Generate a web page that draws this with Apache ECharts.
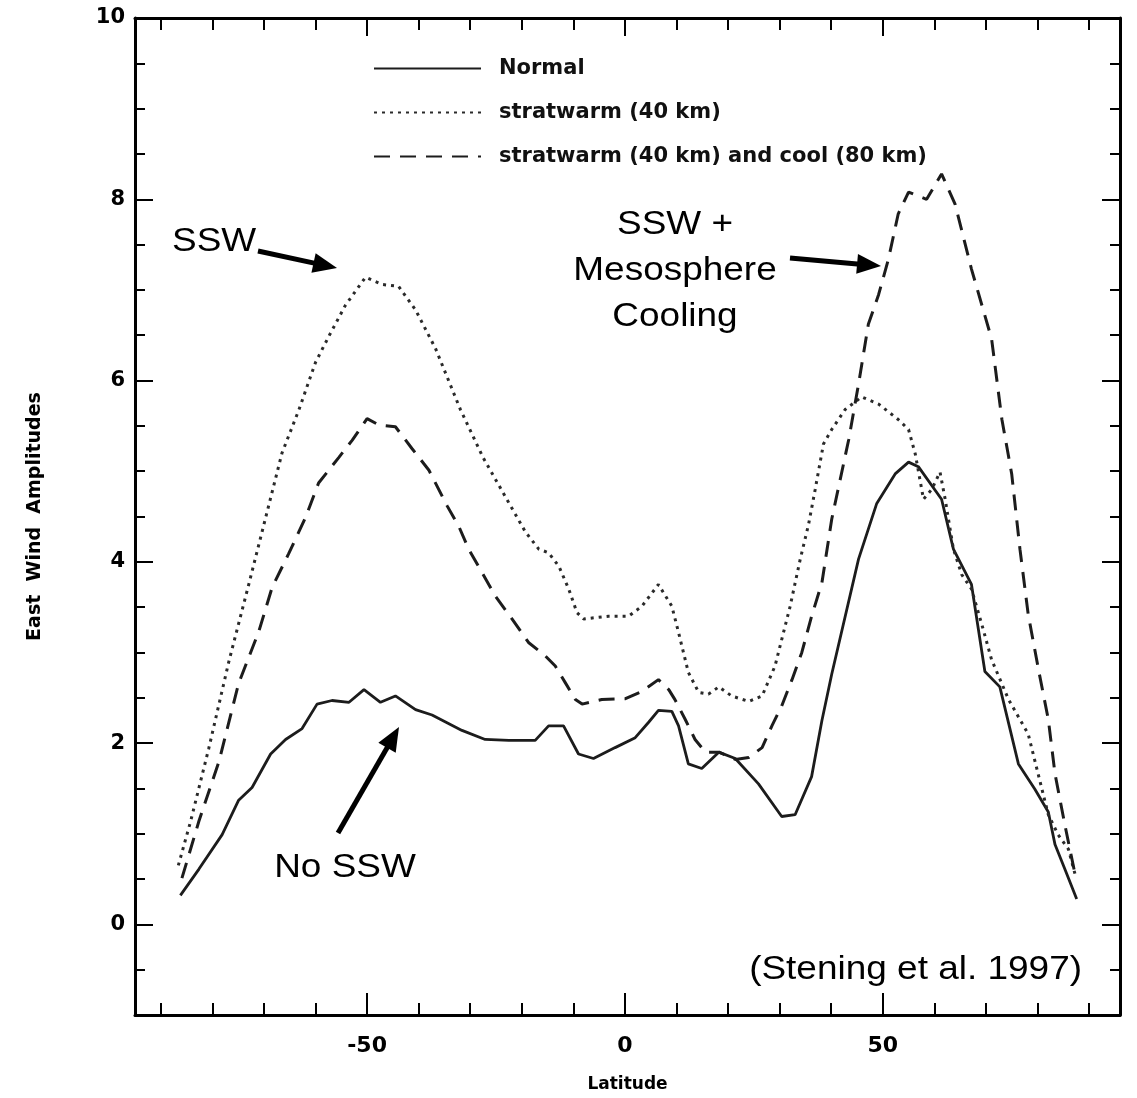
<!DOCTYPE html>
<html>
<head>
<meta charset="utf-8">
<script src="https://cdn.jsdelivr.net/npm/echarts@6/dist/echarts.min.js"></script>
<style>
html,body{margin:0;padding:0;background:#fff;}
#chart{width:1137px;height:1098px;}
</style>
</head>
<body>
<div id="chart"></div>
<script>
// ---- Data ----
const latNormal = [-86.2,-82.6,-78.1,-74.9,-72.3,-68.7,-65.8,-62.6,-59.7,-56.8,-53.5,-50.6,-47.4,-44.5,-40.6,-37.4,-31.6,-27.1,-22.5,-17.4,-14.8,-11.9,-9.0,-6.1,-1.9,2.0,4.6,6.5,9.1,10.4,12.3,14.9,18.2,21.4,25.9,30.4,33.0,36.2,38.2,40.1,45.3,48.8,52.4,55.0,56.9,61.4,63.7,67.2,69.8,72.7,76.3,79.5,82.1,83.4,85.3,87.6];
const ampNormal = [0.32,0.61,0.99,1.37,1.51,1.88,2.04,2.16,2.43,2.47,2.45,2.59,2.45,2.52,2.37,2.31,2.14,2.04,2.03,2.03,2.19,2.19,1.88,1.83,1.95,2.06,2.23,2.36,2.35,2.19,1.77,1.72,1.90,1.83,1.55,1.19,1.21,1.63,2.25,2.76,4.03,4.64,4.97,5.10,5.05,4.69,4.14,3.75,2.79,2.62,1.77,1.49,1.24,0.88,0.61,0.28];

const latWarm = [-86.6,-84.2,-80.7,-76.8,-72.9,-69.7,-66.5,-63.2,-60.0,-57.4,-54.2,-50.3,-47.1,-43.9,-40.6,-36.7,-31.9,-27.5,-22.5,-19.3,-16.7,-14.8,-12.8,-10.9,-9.3,-8.0,-3.2,0.7,3.3,6.5,9.1,10.4,12.3,14.3,16.2,18.2,20.7,24.0,26.6,29.1,32.0,34.0,35.6,36.9,38.5,40.1,42.7,45.9,49.2,53.0,55.0,56.3,57.9,59.5,61.1,62.1,63.7,65.3,67.2,69.2,71.1,74.4,78.2,82.1,84.0,86.0,87.3];
const ampWarm = [0.65,1.14,1.94,2.90,3.76,4.48,5.20,5.68,6.20,6.49,6.83,7.14,7.06,7.04,6.78,6.35,5.68,5.15,4.65,4.33,4.14,4.10,3.95,3.70,3.44,3.37,3.40,3.40,3.51,3.75,3.51,3.22,2.78,2.56,2.54,2.62,2.52,2.46,2.52,2.85,3.50,4.03,4.41,4.80,5.30,5.46,5.68,5.82,5.74,5.57,5.46,5.19,4.69,4.80,4.99,4.69,4.14,3.86,3.70,3.31,2.92,2.48,2.10,1.21,0.99,0.83,0.55];

const latCool = [-85.9,-82.6,-78.7,-74.9,-71.0,-68.4,-65.2,-62.0,-59.4,-55.5,-52.9,-50.0,-47.7,-44.5,-41.3,-38.0,-34.5,-32.2,-30.3,-27.7,-25.1,-21.9,-18.7,-15.4,-13.5,-11.6,-9.6,-8.3,-4.5,0.1,3.3,6.5,8.5,9.7,11.7,13.6,15.6,18.2,21.4,24.0,26.6,28.5,30.4,32.4,34.3,36.2,38.2,40.1,43.4,45.3,47.2,49.2,51.1,53.0,55.0,58.5,61.4,64.0,67.2,71.1,73.1,75.0,76.6,78.2,80.2,82.1,83.4,85.3,87.3];
const ampCool = [0.51,1.14,1.80,2.66,3.23,3.72,4.09,4.48,4.87,5.15,5.34,5.58,5.51,5.49,5.25,5.01,4.62,4.39,4.14,3.88,3.62,3.37,3.11,2.96,2.85,2.67,2.48,2.43,2.48,2.49,2.57,2.70,2.59,2.48,2.26,2.04,1.90,1.90,1.82,1.84,1.95,2.19,2.41,2.70,3.00,3.40,3.77,4.47,5.35,5.96,6.62,6.95,7.34,7.84,8.08,8.00,8.28,7.95,7.23,6.46,5.57,4.97,4.14,3.42,2.81,2.26,1.66,1.10,0.55];

const seriesNames = ['Normal', 'stratwarm (40 km)', 'stratwarm (40 km) and cool (80 km)'];

// tick values / labels
const xMinorTicks = [-90,-80,-70,-60,-50,-40,-30,-20,-10,0,10,20,30,40,50,60,70,80,90];
const xMajorTicks = [-50,0,50];
const yMinorTicks = [-1,-0.5,0,0.5,1,1.5,2,2.5,3,3.5,4,4.5,5,5.5,6,6.5,7,7.5,8,8.5,9,9.5,10];
const yMajorTicks = [0,2,4,6,8,10];

const zip = (xs, ys) => xs.map((x, i) => [x, ys[i]]);

const X_MIN = -95, X_MAX = 96, Y_MIN = -1, Y_MAX = 10;
const LBL_FONT = 'DejaVu Sans';
const INK = '#1c1c1c';

function xAx(pos, ticks, len, showLine, showLabel) {
  return {
    type: 'value', position: pos, min: X_MIN, max: X_MAX,
    axisLine: { show: showLine, onZero: false, lineStyle: { color: '#000', width: 3 } },
    axisTick: { show: true, inside: true, length: len, customValues: ticks, lineStyle: { color: '#000', width: 2 } },
    axisLabel: { show: showLabel, customValues: xMajorTicks, margin: 20, fontSize: 22, fontWeight: 'bold', fontFamily: LBL_FONT, color: '#000' },
    splitLine: { show: false }
  };
}
function yAx(pos, ticks, len, showLine, showLabel) {
  return {
    type: 'value', position: pos, min: Y_MIN, max: Y_MAX,
    axisLine: { show: showLine, onZero: false, lineStyle: { color: '#000', width: 3 } },
    axisTick: { show: true, inside: true, length: len, customValues: ticks, lineStyle: { color: '#000', width: 2 } },
    axisLabel: { show: showLabel, customValues: yMajorTicks, margin: 10, fontSize: 21, fontWeight: 'bold', fontFamily: LBL_FONT, color: '#000' },
    splitLine: { show: false }
  };
}

const xAxes = [
  Object.assign(xAx('bottom', xMinorTicks, 12, true, true), {
    name: 'Latitude', nameLocation: 'middle', nameGap: 61,
    nameTextStyle: { fontSize: 17, fontWeight: 'bold', fontFamily: LBL_FONT, color: '#000' }
  }),
  xAx('bottom', xMajorTicks, 22, false, false),
  xAx('top', xMinorTicks, 12, true, false),
  xAx('top', xMajorTicks, 18, false, false)
];
const yAxes = [
  Object.assign(yAx('left', yMinorTicks, 10, true, true), {
    name: 'East  Wind  Amplitudes', nameLocation: 'middle', nameGap: 90, nameRotate: 90,
    nameTextStyle: { fontSize: 19, fontWeight: 'bold', fontFamily: LBL_FONT, color: '#000' }
  }),
  yAx('left', yMajorTicks, 18, false, false),
  yAx('right', yMinorTicks, 10, true, false),
  yAx('right', yMajorTicks, 18, false, false)
];

function arrow(x1, y1, x2, y2) {
  const dx = x2 - x1, dy = y2 - y1, L = Math.hypot(dx, dy);
  const ux = dx / L, uy = dy / L, hl = 24, hw = 10;
  const bx = x2 - ux * hl, by = y2 - uy * hl;
  return [
    { type: 'line', silent: true, shape: { x1: x1, y1: y1, x2: bx + ux * 3, y2: by + uy * 3 }, style: { stroke: '#000', lineWidth: 5 } },
    { type: 'polygon', silent: true, shape: { points: [[x2, y2], [bx - uy * hw, by + ux * hw], [bx + uy * hw, by - ux * hw]] }, style: { fill: '#000' } }
  ];
}
function note(text, x, y, align) {
  return {
    type: 'text', x: x, y: y, scaleX: 1.12, scaleY: 1, originX: 0, originY: 0, silent: true,
    style: {
      text: text, fontSize: 33, fontFamily: 'Liberation Sans', fill: '#000',
      align: align, textAlign: align, verticalAlign: 'middle', textVerticalAlign: 'middle', lineHeight: 46
    }
  };
}

const chart = echarts.init(document.getElementById('chart'), null, { renderer: 'canvas' });
chart.setOption({
  backgroundColor: '#fff',
  animation: false,
  grid: { left: 135, right: 17, top: 18, bottom: 83, containLabel: false },
  legend: {
    orient: 'vertical', left: 368, top: 53,
    itemWidth: 107, itemHeight: 20, itemGap: 23,
    itemStyle: { opacity: 0 },
    textStyle: { fontSize: 21, fontWeight: 'bold', fontFamily: LBL_FONT, color: '#111', padding: [0, 0, 0, 13] },
    data: seriesNames
  },
  xAxis: xAxes,
  yAxis: yAxes,
  series: [
    { name: seriesNames[0], type: 'line', xAxisIndex: 0, yAxisIndex: 0, symbol: 'none', showSymbol: false,
      lineStyle: { color: INK, width: 2.8, type: 'solid' }, itemStyle: { color: INK }, data: zip(latNormal, ampNormal) },
    { name: seriesNames[1], type: 'line', xAxisIndex: 0, yAxisIndex: 0, symbol: 'none', showSymbol: false,
      lineStyle: { color: '#2a2a2a', width: 3, type: [3, 5] }, itemStyle: { color: '#2a2a2a' }, data: zip(latWarm, ampWarm) },
    { name: seriesNames[2], type: 'line', xAxisIndex: 0, yAxisIndex: 0, symbol: 'none', showSymbol: false,
      lineStyle: { color: INK, width: 3, type: [16, 10] }, itemStyle: { color: INK }, data: zip(latCool, ampCool) }
  ],
  graphic: [].concat(
    [note('SSW', 172, 242, 'left')],
    arrow(258, 251, 337, 268),
    [note('SSW +\nMesosphere\nCooling', 675, 271, 'center')],
    arrow(790, 258, 881, 266),
    [note('No SSW', 345, 868, 'center')],
    arrow(338, 833, 399, 727),
    [note('(Stening et al. 1997)', 1082, 970, 'right')]
  )
});
</script>
</body>
</html>
